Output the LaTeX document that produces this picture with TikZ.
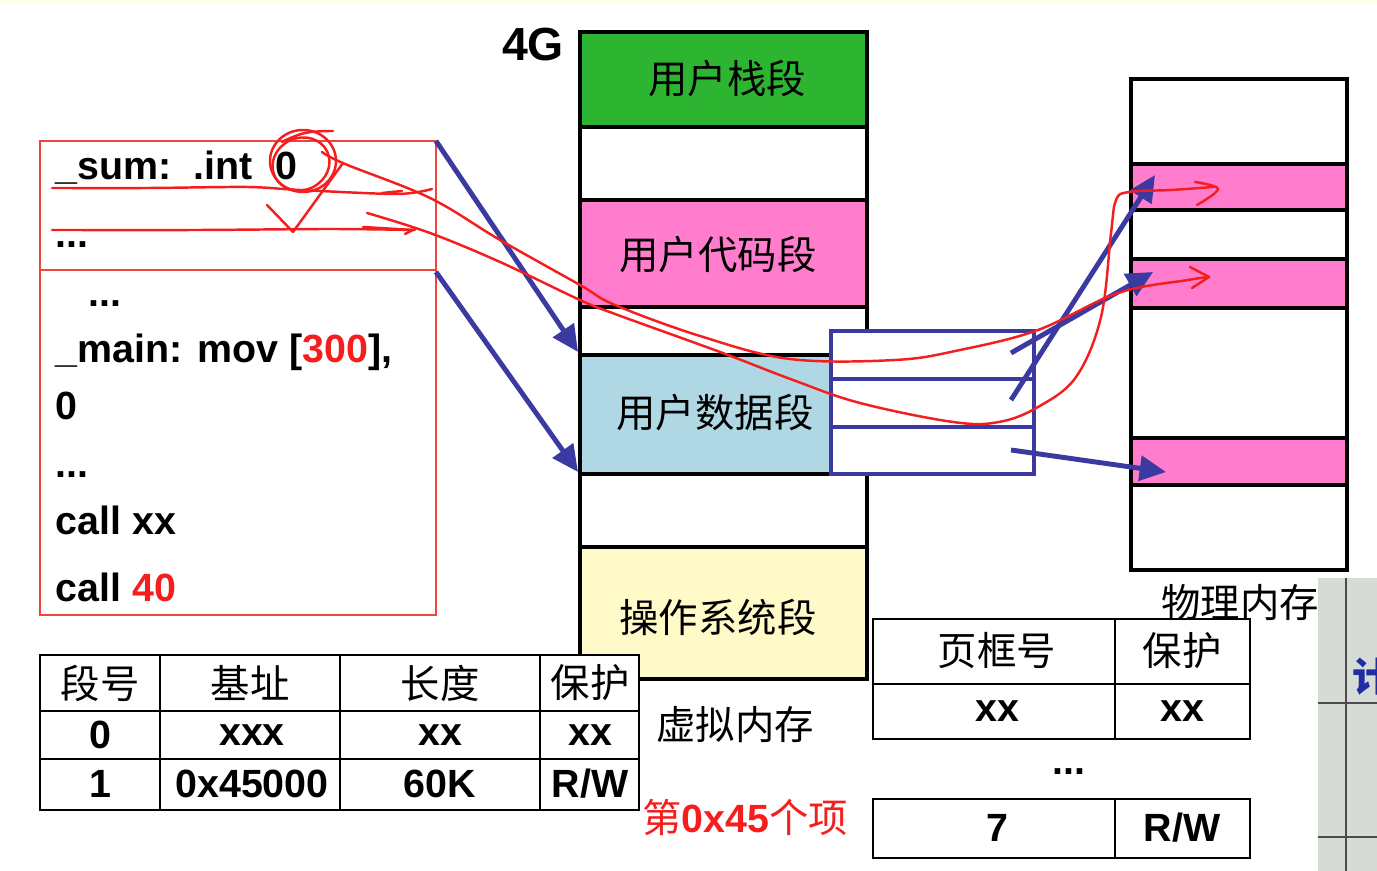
\documentclass[tikz,border=0pt]{standalone}
\usepackage{fontspec}
\setmainfont{Liberation Sans}
\newfontfamily\cjk{Noto Sans CJK SC}
\usetikzlibrary{arrows.meta}

\definecolor{stackgreen}{RGB}{45,180,48}
\definecolor{segpink}{RGB}{255,125,204}
\definecolor{datablue}{RGB}{176,216,228}
\definecolor{osyellow}{RGB}{255,250,200}
\definecolor{ptblue}{RGB}{58,58,160}
\definecolor{penred}{RGB}{245,30,30}
\definecolor{boxred}{RGB}{238,70,60}
\definecolor{photogray}{RGB}{214,219,214}
\definecolor{topstrip}{RGB}{255,253,232}

\begin{document}
\begin{tikzpicture}[x=0.01cm,y=-0.01cm,
  code/.style={anchor=base west,inner sep=0pt,font=\fontsize{11.2}{13}\selectfont\bfseries},
  cn/.style={inner sep=0pt,font=\fontsize{11.2}{13}\selectfont\cjk},
  num/.style={inner sep=0pt,font=\fontsize{11.2}{13}\selectfont\bfseries},
  band/.style={draw=black,line width=1.15pt},
  ptline/.style={draw=ptblue,line width=1.15pt},
  tbl/.style={draw=black,line width=0.8pt},
  bluearrow/.style={draw=ptblue,line width=1.4pt,-{Triangle[length=7.5pt,width=7pt]}},
  pen/.style={draw=penred,line width=0.7pt,line cap=round,line join=round},
  red text/.style={text=penred}]
\useasboundingbox (0,0) rectangle (1377,871);
\fill[topstrip] (0,0) rectangle (1377,4);

% ---------- virtual memory column ----------
\fill[stackgreen] (580,32) rectangle (867,127);
\fill[white]      (580,127) rectangle (867,200);
\fill[segpink]    (580,200) rectangle (867,307);
\fill[white]      (580,307) rectangle (867,355);
\fill[datablue]   (580,355) rectangle (867,474);
\fill[white]      (580,474) rectangle (867,547);
\fill[osyellow]   (580,547) rectangle (867,679);
\foreach \yy in {127,200,307,355,474,547} \draw[band] (580,\yy) -- (867,\yy);
\draw[band] (580,32) rectangle (867,679);
\node[cn] (stackseg) at (727,79)  {用户栈段};
\node[cn] (codeseg)  at (718,255) {用户代码段};
\node[cn] (dataseg)  at (715,413) {用户数据段};
\node[cn] (osseg)    at (718,617) {操作系统段};
\node[inner sep=0pt,font=\fontsize{13.2}{15}\selectfont\bfseries] (fourg) at (533,45) {4G};
\node[cn] (vmem) at (735,725) {虚拟内存};
\node[cn,red text] (entry) at (745,817) {第\textbf{\fontspec{Liberation Sans}0x45}个项};

% ---------- page table box ----------
\filldraw[fill=white,ptline] (831,331) rectangle (1034,474);
\draw[ptline] (831,379) -- (1034,379);
\draw[ptline] (831,427) -- (1034,427);

% ---------- physical memory column ----------
\fill[white]   (1131,79) rectangle (1347,570);
\fill[segpink] (1131,164) rectangle (1347,210);
\fill[segpink] (1131,259) rectangle (1347,308);
\fill[segpink] (1131,438) rectangle (1347,485);
\foreach \yy in {164,210,259,308,438,485} \draw[band] (1131,\yy) -- (1347,\yy);
\draw[band] (1131,79) rectangle (1347,570);
\node[cn] (pmem) at (1240,603) {物理内存};

% ---------- program listing ----------
\draw[boxred,line width=0.5pt] (40,141) rectangle (436,615);
\draw[boxred,line width=0.5pt] (40,270) -- (436,270);
\node[code] (lsum)   at (55,180) {\_sum:\ \ .int\hspace{6.5pt}0};
\node[code] (ldots1) at (55,248) {...};
\node[code] (ldots2) at (88,307) {...};
\node[code] (lmain)  at (55,363) {\_main: mov [{\color{penred}300}],};
\node[code] (lzero)  at (55,420) {0};
\node[code] (ldots3) at (55,478) {...};
\node[code] (lcall1) at (55,535) {call xx};
\node[code] (lcall2) at (55,602) {call {\color{penred}40}};

% ---------- segment table ----------
\filldraw[fill=white,tbl] (40,655) rectangle (639,810);
\draw[tbl] (40,711) -- (639,711);
\draw[tbl] (40,759) -- (639,759);
\foreach \xx in {160,340,540} \draw[tbl] (\xx,655) -- (\xx,810);
\node[cn] (sh1) at (100,683) {段号};
\node[cn] (sh2) at (250,683) {基址};
\node[cn] (sh3) at (440,683) {长度};
\node[cn] (sh4) at (590,683) {保护};
\node[num] (s01) at (100,735) {0};
\node[num] (s02) at (252,735) {xxx};
\node[num] (s03) at (440,735) {xx};
\node[num] (s04) at (590,735) {xx};
\node[num] (s11) at (100,784) {1};
\node[num] (s12) at (252,784) {0x45000};
\node[num] (s13) at (440,784) {60K};
\node[num] (s14) at (590,784) {R/W};

% ---------- page table ----------
\filldraw[fill=white,tbl] (873,619) rectangle (1250,739);
\draw[tbl] (873,684) -- (1250,684);
\draw[tbl] (1115,619) -- (1115,739);
\node[cn]  (ph1) at (997,651)  {页框号};
\node[cn]  (ph2) at (1182,651) {保护};
\node[num] (p01) at (997,711)  {xx};
\node[num] (p02) at (1182,711) {xx};
\node[code] (pdots) at (1052,774) {...};
\filldraw[fill=white,tbl] (873,799) rectangle (1250,858);
\draw[tbl] (1115,799) -- (1115,858);
\node[num] (p71) at (997,828)  {7};
\node[num] (p72) at (1182,828) {R/W};

% ---------- mapping arrows ----------
\coordinate (codeTop) at (436,141);
\coordinate (codeSep) at (436,272);
\coordinate (dataTop) at (578,352);
\coordinate (dataBot) at (578,472);
\draw[bluearrow] (codeTop) -- (dataTop);
\draw[bluearrow] (codeSep) -- (dataBot);

\coordinate (pte1) at (1011,353);
\coordinate (pte2) at (1011,400);
\coordinate (pte3) at (1011,450);
\coordinate (frameA) at (1155,175);
\coordinate (frameB) at (1153,272);
\coordinate (frameC) at (1166,472);
\draw[bluearrow] (pte1) -- (frameB);
\draw[bluearrow] (pte2) -- (frameA);
\draw[bluearrow] (pte3) -- (frameC);

% ---------- pen annotations ----------
\draw[pen] (303,161) ellipse [x radius=33,y radius=31];
\draw[pen,rotate around={25:(301,164)}] (301,164) ellipse [x radius=29,y radius=26];
\draw[pen] plot[smooth,tension=0.7] coordinates {(282,142) (305,133) (333,131)};
\draw[pen] plot[smooth,tension=0.5] coordinates {(52,188) (150,188) (247,187) (300,190) (397,194) (432,189)};
\draw[pen] (382,193) -- (402,191);
\draw[pen] plot[smooth,tension=0.5] coordinates {(52,230) (200,230) (330,229) (415,230)};
\draw[pen] (363,227) -- (413,230) -- (405,234);
\draw[pen] (267,205) -- (293,232) -- (343,163);
% curve from the circled value to the second frame
\draw[pen] plot[smooth,tension=0.6] coordinates {(322,152) (345,164) (430,198) (500,240) (580,285) (615,305) (700,336) (790,359) (895,360) (960,350) (1038,330) (1118,293) (1188,280) (1209,277)};
\draw[pen] (1190,267) -- (1209,277) -- (1192,288);
% curve from the listing to the first frame
\draw[pen] plot[smooth,tension=0.6] coordinates {(367,213) (430,233) (500,262) (580,300) (615,314) (720,352) (793,380) (860,403) (953,422) (999,422) (1038,407) (1076,377) (1101,317) (1111,233) (1116,200) (1129,192) (1171,190) (1213,187)};
\draw[pen] plot[smooth,tension=0.6] coordinates {(1195,182) (1218,189) (1197,205)};

% ---------- camera inset at the lower right ----------
\begin{scope}
\clip (1318,578) rectangle (1377,871);
\fill[photogray] (1318,578) rectangle (1377,871);
\draw[black!70,line width=0.5pt] (1346,578) -- (1346,871);
\draw[black!70,line width=0.5pt] (1318,703) -- (1377,703);
\draw[black!70,line width=0.5pt] (1318,837) -- (1377,837);
\node[inner sep=0pt,text={rgb,255:red,30;green,45;blue,165},font=\fontsize{11.2}{13}\selectfont\cjk\bfseries] (insetchar) at (1372,677) {计};
\end{scope}
\end{tikzpicture}
\end{document}
